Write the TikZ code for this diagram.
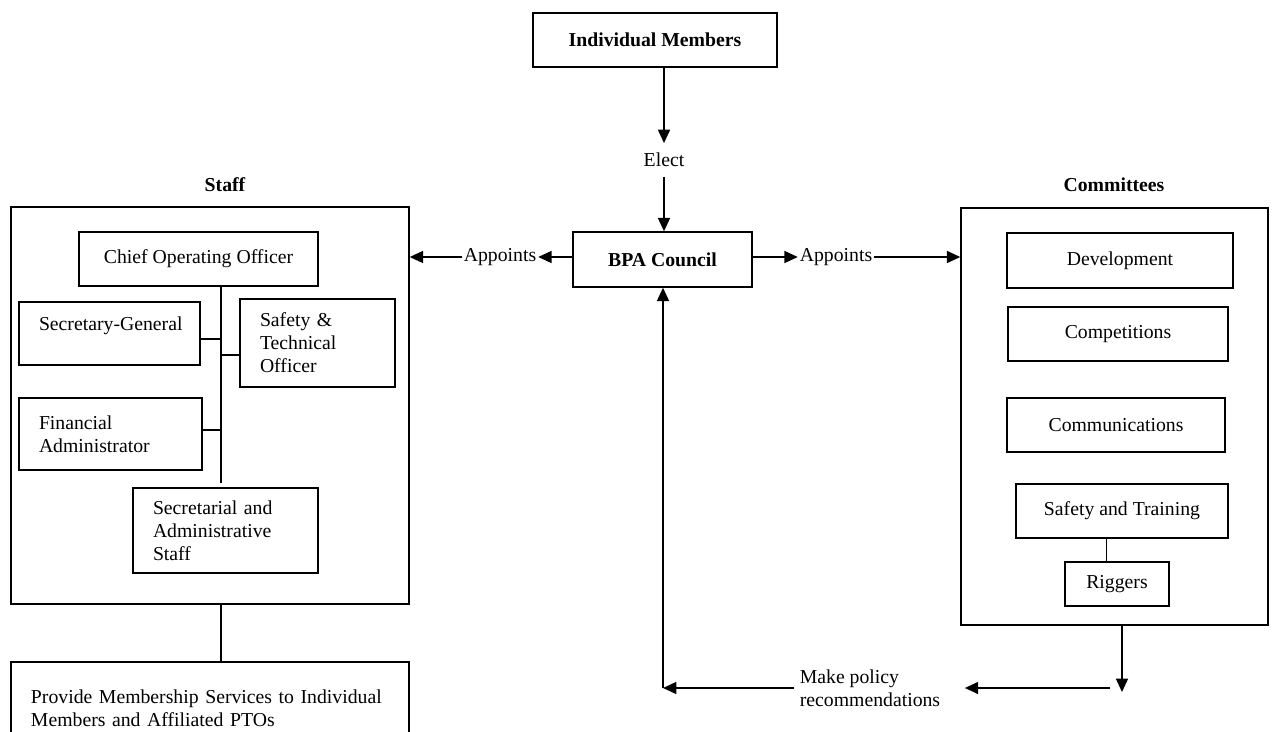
\documentclass[tikz,border=0pt]{standalone}
\usepackage{fontspec}
\setmainfont{Liberation Serif}
\usetikzlibrary{arrows.meta}

\begin{document}
\fontsize{14.8}{17.2}\selectfont
\begin{tikzpicture}[x=0.75pt, y=-0.75pt, line width=1.1pt,
  box/.style={draw=black, rectangle, inner sep=0pt},
  bx/.style 2 args={minimum width=#1*0.75pt, minimum height=#2*0.75pt},
  lt/.style={text width=#1*0.75pt, align=left},
  arr/.style={-{Triangle[length=10pt,width=9pt]}}]
\useasboundingbox (0,0) rectangle (1279,732);

% top of the chart
\node[box, bx={244}{54}, font=\bfseries] (members) at (655,40) {Individual Members};
\node (elect) at (664,160) {Elect};
\node[box, bx={179}{55}, font=\bfseries] (council) at (662.5,259.5) {BPA Council};
\draw[arr] (elect |- members.south) -- ([yshift=2pt]elect.north);
\draw[arr] ([yshift=-2pt]elect.south) -- (elect |- council.north);

% staff side
\node[font=\bfseries] (stafflbl) at (225,185) {Staff};
\node[box, bx={398}{397}] (staff) at (210,405.5) {};
\node[box, bx={239}{54}] (coo) at (198.5,259) {Chief Operating Officer};
\node[box, bx={181}{63}, lt=141, text depth=15pt] (secgen) at (109.5,333.5) {\mbox{Secretary-General}};
\node[box, bx={155}{88}, lt=115] (safetech) at (317.5,343) {Safety \&\\Technical\\Officer};
\node[box, bx={183}{72}, lt=143] (finadmin) at (110.5,434) {Financial\\Administrator};
\node[box, bx={185}{85}, lt=145] (secstaff) at (225.5,530.5) {Secretarial and\\Administrative\\Staff};
\coordinate (spine) at (221,483);
\draw (coo.south -| spine) -- (spine);
\draw ([yshift=-4pt]secgen.east) -- ([yshift=-4pt]secgen.east -| spine);
\draw ([yshift=-9pt]safetech.west) -- ([yshift=-9pt]safetech.west -| spine);
\draw ([yshift=3pt]finadmin.east) -- ([yshift=3pt]finadmin.east -| spine);

\node[box, bx={398}{85}, lt=358, text depth=12pt] (provide) at (210,704.5) {Provide Membership Services to Individual\\Members and Affiliated PTOs};
\draw (staff.south -| spine) -- (provide.north -| spine);

% committees side
\node[font=\bfseries] (comlbl) at (1114,185) {Committees};
\node[box, bx={307}{417}] (committees) at (1114.5,416.5) {};
\node[box, bx={226}{55}] (devel) at (1120,260.5) {Development};
\node[box, bx={220}{54}] (compet) at (1118,334) {Competitions};
\node[box, bx={218}{54}] (commun) at (1116,425) {Communications};
\node[box, bx={212}{54}] (training) at (1122,511) {Safety and Training};
\node[box, bx={104}{44}] (riggers) at (1117,584) {Riggers};
\draw ([xshift=-8pt]riggers.north) -- ([xshift=-8pt]riggers.north |- training.south);

% appointments
\node[inner sep=1pt] (apleft) at (500,257) {Appoints};
\node[inner sep=1pt] (apright) at (836,257) {Appoints};
\draw[arr] (council.west |- apleft) -- (apleft.east);
\draw[arr] (apleft.west) -- (apleft -| staff.east);
\draw[arr] (council.east |- apright) -- (apright.west);
\draw[arr] (apright.east) -- (apright -| committees.west);

% recommendations back to council
\node[align=left, inner sep=1pt] (policy) at (870,688) {Make policy\\recommendations};
\coordinate (drop) at (1122,692);
\coordinate (turn) at (1110,688);
\coordinate (corner) at (663,688);
\draw[arr] (drop |- committees.south) -- (drop);
\draw[arr] (turn) -- ([xshift=17pt]policy.east);
\draw[arr] ([xshift=-3pt]policy.west) -- (corner);
\draw[arr] (corner) -- (corner |- council.south);
\end{tikzpicture}
\end{document}
